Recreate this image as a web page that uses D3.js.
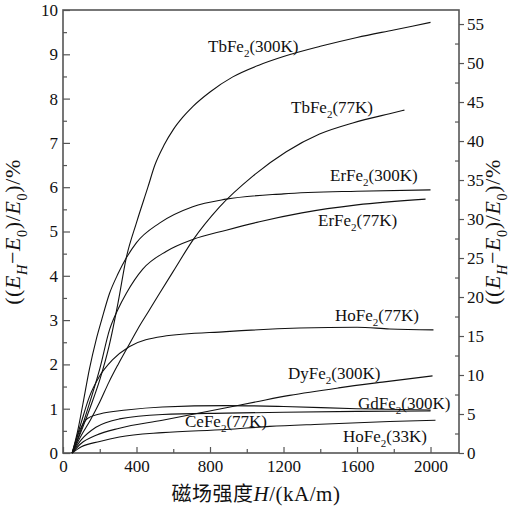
<!DOCTYPE html>
<html>
<head>
<meta charset="utf-8">
<script src="https://cdn.jsdelivr.net/npm/d3@7"></script>
<style>
  body { margin: 0; background: #fff; }
</style>
</head>
<body>
<div id="chart"></div>
<script>
var width = 513, height = 518;
var margin = {left: 63, top: 10, right: 54, bottom: 65};
var serif = '"Liberation Serif", "Times New Roman", Times, serif';

// tick values
var xTicks = [0, 400, 800, 1200, 1600, 2000];
var xMinor = [200, 600, 1000, 1400, 1800];
var yTicks = [0, 1, 2, 3, 4, 5, 6, 7, 8, 9, 10];
var yMinor = [0.5, 1.5, 2.5, 3.5, 4.5, 5.5, 6.5, 7.5, 8.5, 9.5];
var yRTicks = [0, 5, 10, 15, 20, 25, 30, 35, 40, 45, 50, 55];
var yRMinor = [2.5, 7.5, 12.5, 17.5, 22.5, 27.5, 32.5, 37.5, 42.5, 47.5, 52.5];

// series: [H (kA/m), (EH-E0)/E0 (%)]
var tbFe300 = [[50,0],[100,0.5],[150,1.05],[200,1.65],[250,2.4],[300,3.4],[344,4.4],[400,5.2],[462,6.0],[500,6.5],[550,6.95],[600,7.3],[652,7.58],[706,7.82],[800,8.15],[924,8.49],[1069,8.76],[1200,8.95],[1400,9.18],[1600,9.38],[1800,9.55],[2000,9.72]];
var tbFe77 = [[50,0],[100,0.4],[150,0.75],[200,1.15],[250,1.6],[300,2.0],[360,2.45],[407,2.8],[466,3.2],[525,3.6],[600,4.1],[706,4.8],[851,5.55],[1033,6.25],[1215,6.8],[1396,7.2],[1577,7.45],[1777,7.66],[1858,7.74]];
var erFe300 = [[50,0],[80,0.5],[108,1.1],[144,1.9],[180,2.55],[210,3.0],[253,3.6],[300,4.05],[344,4.4],[400,4.75],[525,5.19],[706,5.56],[888,5.73],[1200,5.85],[1600,5.91],[2000,5.94]];
var erFe77 = [[50,0],[100,0.55],[150,1.2],[200,1.9],[253,2.78],[300,3.25],[344,3.6],[434,4.15],[561,4.55],[706,4.82],[888,5.03],[1069,5.22],[1300,5.42],[1600,5.6],[1973,5.73]];
var hoFe77 = [[50,0],[100,0.7],[142,1.25],[197,1.72],[269,2.1],[360,2.4],[541,2.63],[888,2.74],[1287,2.82],[1600,2.84],[1777,2.8],[2016,2.78]];
var dyFe300 = [[50,0],[100,0.22],[180,0.4],[307,0.56],[541,0.74],[888,1.02],[1069,1.17],[1233,1.3],[1500,1.47],[1738,1.6],[2011,1.74]];
var gdFe300 = [[50,0],[90,0.5],[133,0.78],[200,0.88],[344,0.97],[541,1.04],[888,1.07],[1200,1.05],[1600,1.0],[2000,0.97]];
var ceFe77 = [[50,0],[100,0.3],[179,0.58],[307,0.77],[541,0.87],[888,0.9],[1200,0.92],[1600,0.94],[2000,0.95]];
var hoFe33 = [[50,0],[100,0.14],[200,0.26],[307,0.36],[541,0.46],[888,0.53],[1124,0.6],[1400,0.65],[1777,0.71],[2027,0.74]];

var allSeries = [tbFe300, tbFe77, erFe300, erFe77, hoFe77, dyFe300, gdFe300, ceFe77, hoFe33];

var svg = d3.select('#chart')
    .append('svg')
    .attr('width', width)
    .attr('height', height);

var xScale = d3.scaleLinear()
    .domain([0, 2155])
    .range([margin.left, width - margin.right]);

var yScale = d3.scaleLinear()
    .domain([0, 10])
    .range([height - margin.bottom, margin.top]);

var yRScale = d3.scaleLinear()
    .domain([0, 56.8])
    .range([height - margin.bottom, margin.top]);

var axisColor = '#555';
var bottomY = height - margin.bottom;
var rightX = width - margin.right;
var fmt = d3.format('d');

function styleAxis(g) {
    g.select('.domain').remove();
    g.selectAll('line').attr('stroke', axisColor).attr('stroke-width', 1.2);
    g.selectAll('text')
        .style('font-size', '17px')
        .style('font-family', serif)
        .attr('fill', '#111');
}

// left axis
svg.append('g').attr('transform', 'translate(' + margin.left + ',0)')
    .call(d3.axisLeft(yScale).tickValues(yTicks).tickFormat(fmt).tickSize(-7).tickPadding(5))
    .call(styleAxis);
svg.append('g').attr('transform', 'translate(' + margin.left + ',0)')
    .call(d3.axisLeft(yScale).tickValues(yMinor).tickSize(-4).tickFormat(''))
    .call(styleAxis);

// bottom axis
svg.append('g').attr('transform', 'translate(0,' + bottomY + ')')
    .call(d3.axisBottom(xScale).tickValues(xTicks).tickFormat(fmt).tickSize(-6).tickPadding(7))
    .call(styleAxis);
svg.append('g').attr('transform', 'translate(0,' + bottomY + ')')
    .call(d3.axisBottom(xScale).tickValues(xMinor).tickSize(-4).tickFormat(''))
    .call(styleAxis);

// right axis
svg.append('g').attr('transform', 'translate(' + rightX + ',0)')
    .call(d3.axisRight(yRScale).tickValues(yRTicks).tickFormat(fmt).tickSize(5).tickPadding(3))
    .call(styleAxis);
svg.append('g').attr('transform', 'translate(' + rightX + ',0)')
    .call(d3.axisRight(yRScale).tickValues(yRMinor).tickSize(-4).tickFormat(''))
    .call(styleAxis);

// frame
svg.append('rect')
    .attr('x', margin.left)
    .attr('y', margin.top)
    .attr('width', rightX - margin.left)
    .attr('height', bottomY - margin.top)
    .attr('fill', 'none')
    .attr('stroke', axisColor)
    .attr('stroke-width', 1.6);

// curves
var line = d3.line()
    .x(function(d){ return xScale(d[0]); })
    .y(function(d){ return yScale(d[1]); })
    .curve(d3.curveMonotoneX);

svg.selectAll('.curve')
    .data(allSeries)
    .enter()
    .append('path')
    .attr('class', 'curve')
    .attr('d', line)
    .attr('fill', 'none')
    .attr('stroke', '#111')
    .attr('stroke-width', 1.1);

// rich text helper: parts = [text, style] with style n / i / s / si
function rich(sel, parts, size) {
    var shift = 0;
    parts.forEach(function(p){
        var sub = p[1].indexOf('s') >= 0;
        var target = sub ? size * 0.3 : 0;
        var t = sel.append('tspan').text(p[0]).attr('dy', target - shift);
        shift = target;
        if (sub) t.style('font-size', (size * 0.65) + 'px');
        if (p[1].indexOf('i') >= 0) t.style('font-style', 'italic');
    });
}

// curve labels
var labels = [
    ['TbFe', '(300K)', 208, 52],
    ['TbFe', '(77K)', 291, 113],
    ['ErFe', '(300K)', 330, 181],
    ['ErFe', '(77K)', 318, 226],
    ['HoFe', '(77K)', 335, 321],
    ['DyFe', '(300K)', 288, 379],
    ['GdFe', '(300K)', 358, 409],
    ['CeFe', '(77K)', 185, 427],
    ['HoFe', '(33K)', 343, 442]
];
labels.forEach(function(l){
    var t = svg.append('text')
        .attr('x', l[2]).attr('y', l[3])
        .style('font-family', serif)
        .style('font-size', '17px')
        .attr('fill', '#111');
    rich(t, [[l[0], 'n'], ['2', 's'], [l[1], 'n']], 17);
});

// axis titles
var titleParts = [['((', 'n'], ['E', 'i'], ['H', 'si'], ['\u2212', 'n'], ['E', 'i'], ['0', 's'],
    [')/', 'n'], ['E', 'i'], ['0', 's'], [')/%', 'n']];

[[20, 232], [500, 232]].forEach(function(pos){
    var t = svg.append('text')
        .attr('transform', 'translate(' + pos[0] + ',' + pos[1] + ') rotate(-90)')
        .attr('text-anchor', 'middle')
        .attr('dy', '0.35em')
        .style('font-family', serif)
        .style('font-size', '22px')
        .style('letter-spacing', '0.6px')
        .attr('fill', '#111');
    rich(t, titleParts, 22);
});

var xt = svg.append('text')
    .attr('x', 256).attr('y', 501)
    .attr('text-anchor', 'middle')
    .style('font-family', serif)
    .style('font-size', '21px')
    .style('letter-spacing', '0.5px')
    .attr('fill', '#111');
xt.append('tspan').text('磁场强度')
    .style('font-family', '"Noto Sans CJK SC", sans-serif').style('font-size', '20px');
xt.append('tspan').text('H').style('font-style', 'italic');
xt.append('tspan').text('/(kA/m)');
</script>
</body>
</html>
